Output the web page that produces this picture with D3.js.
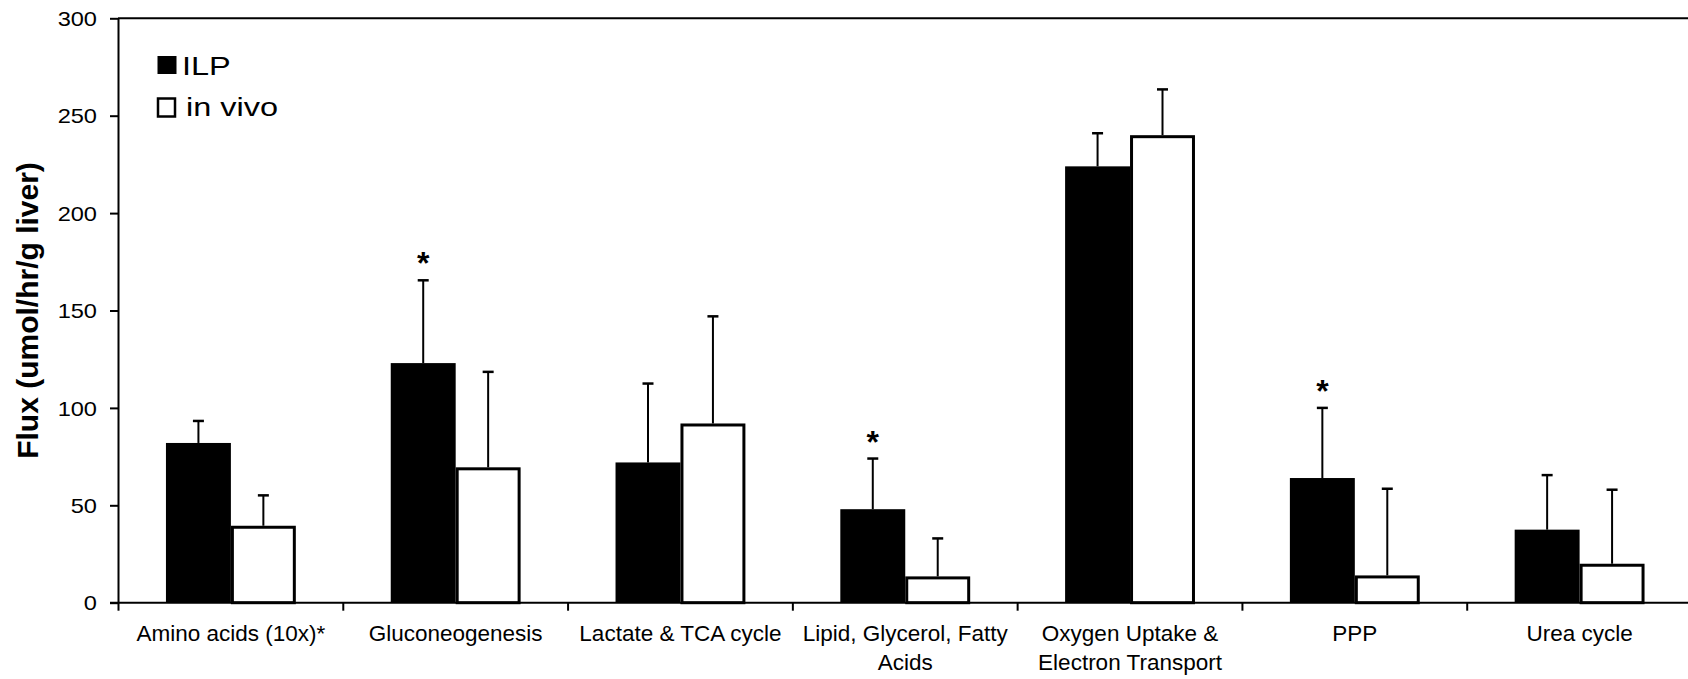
<!DOCTYPE html>
<html>
<head>
<meta charset="utf-8">
<script src="https://cdn.jsdelivr.net/npm/d3@7"></script>
<style>
  body { margin: 0; background: #fff; }
  svg { display: block; }
  text { font-family: "Liberation Sans", Arial, Helvetica, sans-serif; fill: #000; }
</style>
</head>
<body>
<svg id="chart" width="1688" height="679"></svg>
<script>
// Metabolic flux per pathway (umol/hr/g liver), mean with upward SD bar
const categories = [
  "Amino acids (10x)*",
  "Gluconeogenesis",
  "Lactate & TCA cycle",
  "Lipid, Glycerol, Fatty\nAcids",
  "Oxygen Uptake &\nElectron Transport",
  "PPP",
  "Urea cycle"
];
const seriesNames = ["ILP", "in vivo"];
const ilpMean  = [82, 123, 72, 48, 224, 64, 37.5];
const ilpSD    = [11.3, 42.5, 40.5, 26, 17, 36, 28];
const vivoMean = [39.5, 69.5, 92, 13.5, 240, 14, 20];
const vivoSD   = [15.6, 49, 55, 19.5, 23.5, 44.5, 38];
const ilpSignificant = [false, true, false, true, false, true, false];
const yTicks = [0, 50, 100, 150, 200, 250, 300];

const svg = d3.select("#chart");
const plot = { left: 118, top: 18.3, right: 1692, bottom: 602.7 };

const y = d3.scaleLinear().domain([0, 300]).range([plot.bottom, plot.top]);
const x0 = d3.scaleBand().domain(categories).range([plot.left + 0.5, plot.right]).padding(0);
const groupPad = x0.bandwidth() * 47.5 / 225;
const x1 = d3.scaleBand().domain(seriesNames)
  .range([groupPad, x0.bandwidth() - groupPad]).padding(0);

const rows = categories.map((c, i) => ({
  cat: c,
  bars: [
    { s: "ILP", mean: ilpMean[i], sd: ilpSD[i], sig: ilpSignificant[i] },
    { s: "in vivo", mean: vivoMean[i], sd: vivoSD[i], sig: false }
  ]
}));

// top frame line of the plot area
svg.append("line")
  .attr("x1", plot.left).attr("x2", plot.right)
  .attr("y1", plot.top).attr("y2", plot.top)
  .attr("stroke", "#000").attr("stroke-width", 2);

// bars
const groups = svg.append("g").selectAll("g").data(rows).join("g")
  .attr("transform", d => `translate(${x0(d.cat)},0)`);

groups.selectAll("rect").data(d => d.bars).join("rect")
  .attr("x", d => x1(d.s) + (d.s === "ILP" ? 0 : 1.5))
  .attr("width", d => x1.bandwidth() - (d.s === "ILP" ? 0 : 3))
  .attr("y", d => y(d.mean) + (d.s === "ILP" ? 0 : 1.5))
  .attr("height", d => y(0) - y(d.mean) - (d.s === "ILP" ? 0 : 1.5))
  .attr("fill", d => d.s === "ILP" ? "#000" : "#fff")
  .attr("stroke", "#000")
  .attr("stroke-width", d => d.s === "ILP" ? 0 : 3);

// error bars (upper only)
const err = groups.selectAll("g.err").data(d => d.bars).join("g").attr("class", "err")
  .attr("transform", d => `translate(${x1(d.s) + x1.bandwidth() / 2},0)`);
err.append("line")
  .attr("x1", 0).attr("x2", 0)
  .attr("y1", d => y(d.mean)).attr("y2", d => y(d.mean + d.sd))
  .attr("stroke", "#000").attr("stroke-width", 2);
err.append("line")
  .attr("x1", -5.5).attr("x2", 5.5)
  .attr("y1", d => y(d.mean + d.sd)).attr("y2", d => y(d.mean + d.sd))
  .attr("stroke", "#000").attr("stroke-width", 2.5);

// significance marks
err.filter(d => d.sig).append("text")
  .attr("x", 0)
  .attr("y", d => y(d.mean + d.sd) - 6)
  .attr("text-anchor", "middle")
  .style("font-size", "32px").style("font-weight", "bold")
  .text("*");

// y axis
const yAxis = svg.append("g")
  .attr("transform", `translate(${plot.left},0)`)
  .call(d3.axisLeft(y).tickValues(yTicks).tickSize(8).tickPadding(13).tickSizeOuter(0));
yAxis.select(".domain").attr("stroke", "#000").attr("stroke-width", 2);
yAxis.selectAll(".tick line").attr("stroke", "#000").attr("stroke-width", 2);
yAxis.selectAll(".tick text")
  .style("font-size", "20px")
  .attr("dy", "0.36em")
  .attr("x", 0)
  .attr("transform", "translate(-21,0) scale(1.18,1)");

// x axis baseline with boundary ticks
svg.append("line")
  .attr("x1", plot.left - 8).attr("x2", plot.right)
  .attr("y1", y(0)).attr("y2", y(0))
  .attr("stroke", "#000").attr("stroke-width", 2);
const bounds = categories.map(c => x0(c));
svg.append("g").selectAll("line").data(bounds).join("line")
  .attr("x1", d => d).attr("x2", d => d)
  .attr("y1", y(0)).attr("y2", y(0) + 8)
  .attr("stroke", "#000").attr("stroke-width", 2);

// category labels
const xl = svg.append("g").selectAll("text").data(categories).join("text")
  .attr("x", d => x0(d) + x0.bandwidth() / 2)
  .attr("y", 641)
  .attr("text-anchor", "middle")
  .style("font-size", "22.5px");
xl.selectAll("tspan").data(d => d.split("\n").map((t, i) => ({ t, i }))).join("tspan")
  .attr("x", function () { return d3.select(this.parentNode).attr("x"); })
  .attr("dy", d => d.i === 0 ? 0 : 29)
  .text(d => d.t);

// y axis title
svg.append("text")
  .attr("transform", `translate(38,${(plot.top + plot.bottom) / 2}) rotate(-90)`)
  .attr("text-anchor", "middle")
  .style("font-size", "30px").style("font-weight", "bold")
  .text("Flux (umol/hr/g liver)");

// legend
const legend = svg.append("g").selectAll("g").data(seriesNames).join("g")
  .attr("transform", (d, i) => `translate(157,${56 + i * 41.5})`);
legend.append("rect")
  .attr("x", d => d === "ILP" ? 0.5 : 1)
  .attr("y", d => d === "ILP" ? 0 : 1)
  .attr("width", d => d === "ILP" ? 19 : 17)
  .attr("height", 18)
  .attr("fill", d => d === "ILP" ? "#000" : "#fff")
  .attr("stroke", "#000").attr("stroke-width", d => d === "ILP" ? 0 : 2.5);
legend.append("text")
  .attr("transform", d => `translate(${d === "ILP" ? 25 : 29},18.5) scale(1.3,1)`)
  .style("font-size", "25px")
  .text(d => d);
</script>
</body>
</html>
